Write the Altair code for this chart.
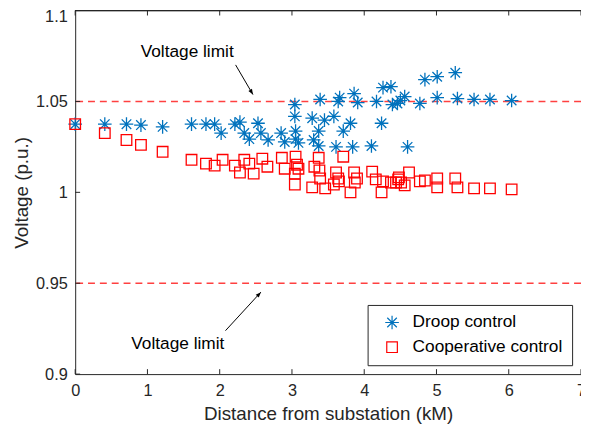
import math
import altair as alt
import pandas as pd

# ---------------- data ----------------
droop_d = [0.00, 0.41, 0.71, 0.91, 1.21, 1.61, 1.81, 1.93, 2.02, 2.21, 2.28, 2.34, 2.41,
           2.53, 2.57, 2.67, 2.85, 2.90, 3.04, 3.04, 3.05, 3.05, 3.09, 3.28, 3.30, 3.37,
           3.37, 3.39, 3.45, 3.58, 3.61, 3.64, 3.66, 3.71, 3.81, 3.84, 3.86, 3.91, 4.10,
           4.17, 4.24, 4.26, 4.37, 4.39, 4.46, 4.50, 4.56, 4.60, 4.77, 4.84, 5.01, 5.01,
           5.26, 5.29, 5.52, 5.74, 6.04]
droop_v = [1.0375, 1.0375, 1.0375, 1.0370, 1.0360, 1.0375, 1.0375, 1.0375, 1.0326, 1.0375,
           1.0386, 1.0326, 1.0293, 1.0380, 1.0326, 1.0288, 1.0326, 1.0277, 1.0483, 1.0418,
           1.0337, 1.0293, 1.0272, 1.0408, 1.0288, 1.0337, 1.0255, 1.0511, 1.0397, 1.0418,
           1.0250, 1.0500, 1.0521, 1.0337, 1.0380, 1.0250, 1.0543, 1.0494, 1.0255, 1.0500,
           1.0380, 1.0576, 1.0581, 1.0483, 1.0489, 1.0505, 1.0527, 1.0250, 1.0489, 1.0620,
           1.0636, 1.0521, 1.0658, 1.0516, 1.0511, 1.0511, 1.0505]

coop_d = [0.00, 0.41, 0.71, 0.91, 1.21, 1.61, 1.81, 1.93, 2.04, 2.21, 2.28, 2.34, 2.41,
          2.47, 2.59, 2.66, 2.86, 2.90, 3.05, 3.07, 3.09, 3.04, 3.04, 3.31, 3.37, 3.38,
          3.39, 3.28, 3.46, 3.61, 3.64, 3.65, 3.58, 3.71, 3.86, 3.90, 3.87, 3.81, 4.11,
          4.16, 4.24, 4.26, 4.37, 4.47, 4.51, 4.44, 4.48, 4.56, 4.62, 4.77, 4.84, 5.01,
          5.01, 5.26, 5.29, 5.52, 5.74, 6.04]
coop_v = [1.0375, 1.0326, 1.0288, 1.0261, 1.0223, 1.0179, 1.0158, 1.0147, 1.0179, 1.0147,
          1.0109, 1.0179, 1.0158, 1.0103, 1.0185, 1.0141, 1.0190, 1.0130, 1.0196, 1.0152,
          1.0130, 1.0103, 1.0043, 1.0141, 1.0190, 1.0120, 1.0076, 1.0027, 1.0022, 1.0109,
          1.0076, 1.0060, 1.0043, 1.0196, 1.0109, 1.0076, 1.0054, 1.0000, 1.0114, 1.0071,
          1.0000, 1.0060, 1.0054, 1.0071, 1.0054, 1.0054, 1.0082, 1.0038, 1.0109, 1.0060,
          1.0065, 1.0076, 1.0027, 1.0076, 1.0027, 1.0022, 1.0022, 1.0016]

series_names = ["Droop control", "Cooperative control"]
limit_v = [1.05, 0.95]
x_ticks = [0, 1, 2, 3, 4, 5, 6, 7]
y_ticks = [0.9, 0.95, 1.0, 1.05, 1.1]

note_text = ["Voltage limit", "Voltage limit"]
note_d = [1.55, 1.42]
note_v = [1.0772, 0.9163]
arrow_d0 = [2.22, 2.08]
arrow_v0 = [1.0701, 0.9239]
arrow_d1 = [2.46, 2.57]
arrow_v1 = [1.0538, 0.9451]

# ---------------- layout ----------------
W, H = 512, 368
FONT = "Liberation Sans"
AX = "#262626"
X_DOM = [0, 7]
Y_DOM = [0.9, 1.1]
px_x = W / (X_DOM[1] - X_DOM[0])
px_y = H / (Y_DOM[1] - Y_DOM[0])

STAR = "M-1,0L1,0M0,-1L0,1M-0.7,-0.7L0.7,0.7M-0.7,0.7L0.7,-0.7"
HEAD = "M0,0L-0.38,1L0.38,1Z"

pts = pd.DataFrame({
    "d": droop_d + coop_d,
    "v": droop_v + coop_v,
    "series": [series_names[0]] * len(droop_d) + [series_names[1]] * len(coop_d),
})
limits = pd.DataFrame({"v": limit_v})
xt = pd.DataFrame({"t": x_ticks})
yt = pd.DataFrame({"t": y_ticks})
notes = pd.DataFrame({"d": note_d, "v": note_v, "text": note_text})
arrows = pd.DataFrame({"d0": arrow_d0, "v0": arrow_v0, "d1": arrow_d1, "v1": arrow_v1})
arrows["angle"] = [
    (math.degrees(math.atan2((b - a) * px_x, (q - p) * px_y)) + 360) % 360
    for a, b, p, q in zip(arrow_d0, arrow_d1, arrow_v0, arrow_v1)
]

xs = alt.Scale(domain=X_DOM, nice=False, zero=False)
ys = alt.Scale(domain=Y_DOM, nice=False, zero=False)

x_axis = alt.Axis(
    values=x_ticks, title="Distance from substation (kM)", grid=False, tickSize=0,
    labelFontSize=16.5, titleFontSize=19, labelPadding=9, titlePadding=5,
    domainColor=AX, labelColor=AX, titleColor=AX, titleFontWeight="normal",
    labelFont=FONT, titleFont=FONT, labelFlush=False, labelOverlap=False,
    labelExpr="'' + datum.value",
)
y_axis = alt.Axis(
    values=y_ticks, title="Voltage (p.u.)", grid=False, tickSize=0,
    labelFontSize=16.5, titleFontSize=19, labelPadding=8, titlePadding=4,
    domainColor=AX, labelColor=AX, titleColor=AX, titleFontWeight="normal",
    labelFont=FONT, titleFont=FONT, labelFlush=False, labelOverlap=False,
    labelExpr="'' + datum.value",
    labelOffset={"condition": {"test": "datum.value >= 1.09", "value": 6}, "value": 0},
)

legend_opts = dict(
    title=None, orient="none", legendX=296, legendY=298,
    strokeColor="#262626", fillColor="#FFFFFF", padding=9,
    labelFont=FONT, labelFontSize=17.5, labelColor="#000000", labelOffset=12,
    symbolSize=150, symbolStrokeWidth=1.2, symbolOffset=7, rowPadding=5,
)

points = alt.Chart(pts).mark_point(filled=False, strokeWidth=1.3, opacity=1).encode(
    x=alt.X("d:Q", scale=xs, axis=x_axis),
    y=alt.Y("v:Q", scale=ys, axis=y_axis),
    color=alt.Color("series:N", scale=alt.Scale(domain=series_names, range=["#0072BD", "#FF0000"]),
                    legend=alt.Legend(**legend_opts)),
    shape=alt.Shape("series:N", scale=alt.Scale(domain=series_names, range=[STAR, "square"]),
                    legend=alt.Legend(**legend_opts)),
    size=alt.Size("series:N", scale=alt.Scale(domain=series_names, range=[190, 115]), legend=None),
)

limit_lines = alt.Chart(limits).mark_rule(
    color="#FF4040", strokeWidth=1.4, strokeDash=[7, 5], opacity=1
).encode(y=alt.Y("v:Q", scale=ys))

top_line = alt.Chart(xt).mark_rule(color=AX, strokeWidth=1).encode(
    x=alt.value(0), x2=alt.value(W), y=alt.value(0)
)
xt_bottom = alt.Chart(xt).mark_rule(color=AX).encode(
    x=alt.X("t:Q", scale=xs), y=alt.value(H), y2=alt.value(H - 5)
)
xt_top = alt.Chart(xt).mark_rule(color=AX).encode(
    x=alt.X("t:Q", scale=xs), y=alt.value(0), y2=alt.value(5)
)
yt_left = alt.Chart(yt).mark_rule(color=AX).encode(
    y=alt.Y("t:Q", scale=ys), x=alt.value(0), x2=alt.value(5)
)

note_marks = alt.Chart(notes).mark_text(
    font=FONT, fontSize=17.5, color="#000000", align="center", baseline="middle"
).encode(x=alt.X("d:Q", scale=xs), y=alt.Y("v:Q", scale=ys), text="text:N")

shafts = alt.Chart(arrows).mark_rule(color="#000000", strokeWidth=1).encode(
    x=alt.X("d0:Q", scale=xs), y=alt.Y("v0:Q", scale=ys),
    x2="d1:Q", y2="v1:Q",
)
heads = alt.Chart(arrows).mark_point(
    shape=HEAD, filled=True, color="#000000", size=120, opacity=1
).encode(
    x=alt.X("d1:Q", scale=xs), y=alt.Y("v1:Q", scale=ys), angle=alt.Angle("angle:Q", scale=None)
)

chart = alt.layer(
    limit_lines, top_line, xt_bottom, xt_top, yt_left, points, shafts, heads, note_marks
).properties(
    width=W, height=H,
    autosize=alt.AutoSizeParams(type="none"),
    padding={"left": 68, "top": 0, "right": 0, "bottom": 55},
).configure_view(stroke=None)

chart.save("out.html", embed_options={"renderer": "svg", "actions": False})
